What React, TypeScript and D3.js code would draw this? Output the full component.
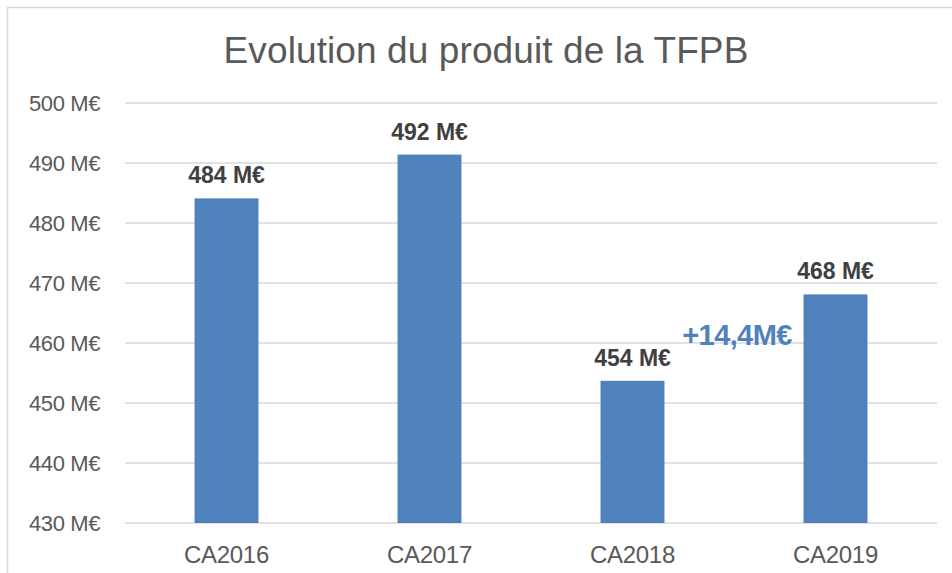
import React from 'react';
import * as d3 from 'd3';

const categories = ['CA2016', 'CA2017', 'CA2018', 'CA2019'];
const values = [484.1, 491.4, 453.7, 468.1];
const valueLabels = ['484 M€', '492 M€', '454 M€', '468 M€'];
const yTicks = [430, 440, 450, 460, 470, 480, 490, 500];
const deltaLabel = '+14,4M€';

const W = 952;
const H = 573;
const margin = { top: 103, right: 15, bottom: 50, left: 125 };

export default function App() {
  const x = d3.scaleBand<string>()
    .domain(categories)
    .range([margin.left, W - margin.right])
    .paddingInner(0.685)
    .paddingOuter(0.3425);

  const y = d3.scaleLinear()
    .domain([430, 500])
    .range([H - margin.bottom, margin.top]);

  const font = '"Liberation Sans", Arial, sans-serif';

  return (
    <svg width={W} height={H} style={{ position: 'absolute', left: 0, top: 0, fontFamily: font }}>
      <rect x={0} y={0} width={W} height={H} fill="#fff" />
      <rect x={7.5} y={7.5} width={W + 10} height={H + 10} fill="none" stroke="#d9d9d9" strokeWidth={1.5} />
      <text x={486} y={63} textAnchor="middle" fontSize={37} fill="#595959" letterSpacing={0.1}>
        Evolution du produit de la TFPB
      </text>
      {yTicks.map(t => (
        <g key={t}>
          <line x1={margin.left} x2={W - margin.right} y1={y(t)} y2={y(t)} stroke="#d9d9d9" strokeWidth={1.5} />
          <text x={100} y={y(t)} dy="0.35em" textAnchor="end" fontSize={22} fill="#595959" letterSpacing={-0.4}>
            {t} M€
          </text>
        </g>
      ))}
      {categories.map((c, i) => (
        <g key={c}>
          <rect x={x(c)} y={y(values[i])} width={x.bandwidth()} height={y(430) - y(values[i])} fill="#4f81bd" />
          <text x={(x(c) as number) + x.bandwidth() / 2} y={y(values[i]) - 15} textAnchor="middle"
            fontSize={23} fontWeight="bold" fill="#404040" letterSpacing={0}>
            {valueLabels[i]}
          </text>
          <text x={(x(c) as number) + x.bandwidth() / 2} y={563} textAnchor="middle" fontSize={24} fill="#595959" letterSpacing={-0.3}>
            {c}
          </text>
        </g>
      ))}
      <text x={737} y={345} textAnchor="middle" fontSize={29} fontWeight="bold" fill="#4f81bd" letterSpacing={-0.6}>
        {deltaLabel}
      </text>
    </svg>
  );
}
